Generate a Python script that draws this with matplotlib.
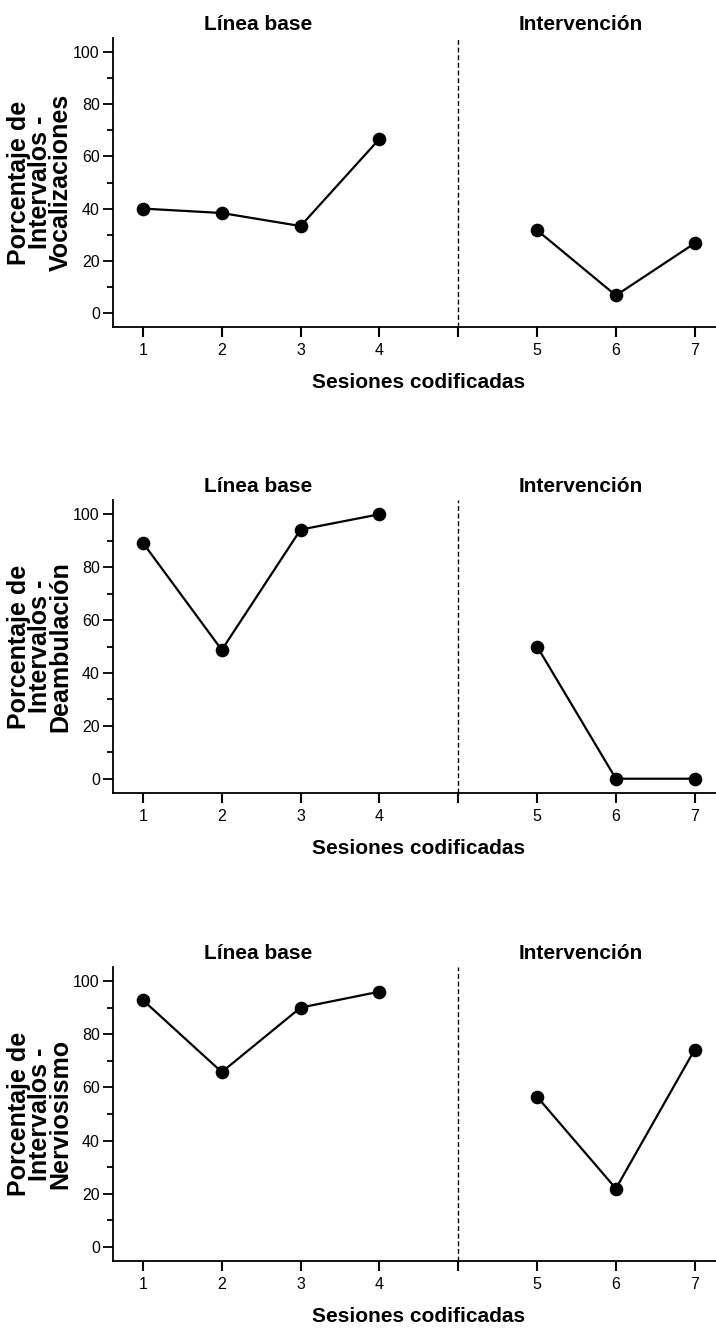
import numpy as np
import matplotlib
matplotlib.use("Agg")
import matplotlib.pyplot as plt
from matplotlib.ticker import MultipleLocator

# Datos (porcentaje de intervalos por sesión)
sesiones = [1, 2, 3, 4, 5, 6, 7]
vocalizaciones = [40.0, 38.3, 33.3, 66.7, 31.7, 6.7, 26.7]
deambulacion = [89.2, 48.7, 94.2, 100.0, 50.0, 0.0, 0.0]
nerviosismo = [92.9, 65.8, 90.1, 96.1, 56.5, 21.9, 74.3]
n_base = 4  # sesiones de línea base

ylabels = [
    "Porcentaje de\nIntervalos -\nVocalizaciones",
    "Porcentaje de\nIntervalos -\nDeambulación",
    "Porcentaje de\nIntervalos -\nNerviosismo",
]
series = [vocalizaciones, deambulacion, nerviosismo]

W, H = 716, 1329
fig = plt.figure(figsize=(W / 100, H / 100), dpi=100)

# posiciones de los paneles en píxeles (arriba, abajo)
panels = [(38, 327), (500, 793), (967, 1261)]
left_px, right_px = 113, 716

sans = ["Liberation Sans", "DejaVu Sans"]

# posición en el eje: la línea de fase ocupa su propio hueco
pos = [s if s <= n_base else s + 1 for s in sesiones]
fase = n_base + 1

for (top, bot), vals, ylab in zip(panels, series, ylabels):
    ax = fig.add_axes([left_px / W, 1 - bot / H, (right_px - left_px) / W, (bot - top) / H])
    ax.plot(pos[:n_base], vals[:n_base], color="black", lw=1.6,
            marker="o", ms=8.8, mfc="black", mec="black", clip_on=False)
    ax.plot(pos[n_base:], vals[n_base:], color="black", lw=1.6,
            marker="o", ms=8.8, mfc="black", mec="black", clip_on=False)
    ax.axvline(fase, color="black", lw=1.0, ls=(0, (3.5, 2.0)))

    ax.set_xlim(0.62, 8.27)
    ax.set_ylim(-5.4, 105.4)
    ax.spines["top"].set_visible(False)
    ax.spines["right"].set_visible(False)
    ax.spines["left"].set_linewidth(1.3)
    ax.spines["bottom"].set_linewidth(1.3)

    ticks = pos[:n_base] + [fase] + pos[n_base:]
    labels = [str(s) for s in sesiones[:n_base]] + [""] + [str(s) for s in sesiones[n_base:]]
    ax.set_xticks(ticks)
    ax.set_xticklabels(labels, family=sans, fontsize=11.5)
    ax.set_yticks(np.arange(0, 101, 20))
    ax.set_yticklabels([str(v) for v in range(0, 101, 20)], family=sans, fontsize=11.5)
    ax.yaxis.set_minor_locator(MultipleLocator(10))
    ax.tick_params(axis="x", length=7.5, width=1.5, pad=4)
    ax.tick_params(axis="y", which="major", length=7.5, width=1.3, pad=2)
    ax.tick_params(axis="y", which="minor", length=4, width=1.3)

    ax.annotate("Línea base", xy=(2.46, 1.0), xycoords=("data", "axes fraction"),
                xytext=(0, 9.5), textcoords="offset points", ha="center", va="center",
                family=sans, fontsize=15, fontweight="bold")
    ax.annotate("Intervención", xy=(6.56, 1.0), xycoords=("data", "axes fraction"),
                xytext=(0, 9.5), textcoords="offset points", ha="center", va="center",
                family=sans, fontsize=15, fontweight="bold")
    ax.annotate("Sesiones codificadas", xy=(0.5, 0.0), xycoords="axes fraction",
                xytext=(3, -40), textcoords="offset points", ha="center", va="center",
                family=sans, fontsize=15, fontweight="bold")

    fig.text(40 / W, 1 - (top + bot) / 2 / H, ylab, rotation=90, ha="center", va="center",
             multialignment="center", linespacing=0.82,
             family=sans, fontsize=18, fontweight="bold")

fig.savefig("out.png", dpi=100, facecolor="white")
